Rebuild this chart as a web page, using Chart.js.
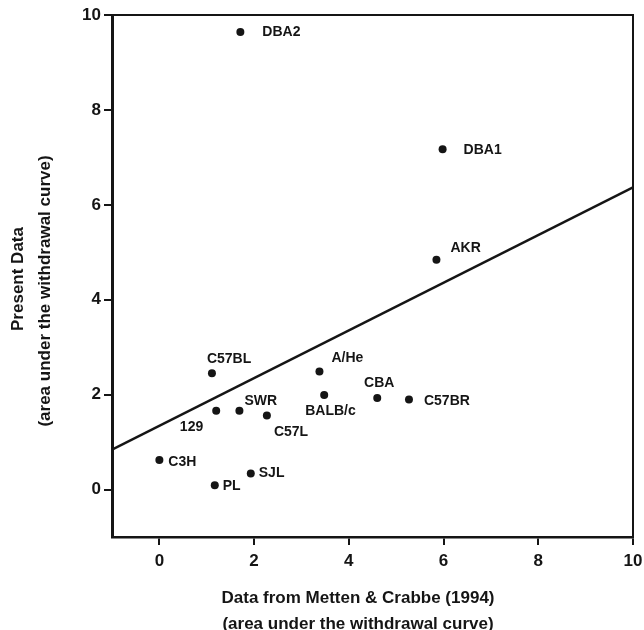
<!DOCTYPE html>
<html lang="en">
<head>
    <meta charset="UTF-8">
    <title>Present Data vs Metten & Crabbe (1994)</title>
    <script src="https://cdn.jsdelivr.net/npm/chart.js"></script>
</head>
<style>
    html, body { margin: 0; padding: 0; background: #fff; }
    .plot { position: relative; width: 644px; height: 630px; }
</style>
<body>
<div class="plot">
    <canvas id="strains" width="644" height="630"></canvas>
</div>
<script>
    // strains
    const strainNames = ['DBA2', 'DBA1', 'AKR', 'C57BL', 'A/He', 'BALB/c', 'CBA', 'C57BR', '129', 'SWR', 'C57L', 'C3H', 'SJL', 'PL'];
    const mettenCrabbe = [1.71, 5.98, 5.85, 1.11, 3.38, 3.48, 4.60, 5.27, 1.20, 1.69, 2.27, 0.00, 1.93, 1.17];
    const presentData = [9.64, 7.17, 4.84, 2.45, 2.49, 1.99, 1.93, 1.90, 1.66, 1.66, 1.56, 0.62, 0.34, 0.09];

    // regression line end points
    const fitX = [-1, 10];
    const fitY = [0.84, 6.37];

    const xTicks = [0, 2, 4, 6, 8, 10];
    const yTicks = [0, 2, 4, 6, 8, 10];

    const xTitle = ['Data from Metten & Crabbe (1994)', '(area under the withdrawal curve)'];
    const yTitle = ['Present Data', '(area under the withdrawal curve)'];

    // where each name sits next to its dot: [dx, dy, align]
    const labelPlace = {
        'DBA2': [22, 0, 'left'], 'DBA1': [21, 1, 'left'], 'AKR': [14, -12, 'left'],
        'C57BL': [-5, -14, 'left'], 'A/He': [12, -13, 'left'], 'BALB/c': [-19, 16, 'left'],
        'CBA': [2, -15, 'center'], 'C57BR': [15, 2, 'left'], '129': [-13, 16, 'right'],
        'SWR': [5, -10, 'left'], 'C57L': [7, 17, 'left'], 'C3H': [9, 2, 'left'],
        'SJL': [8, 0, 'left'], 'PL': [8, 1, 'left']
    };

    const ink = '#151515';
    const family = '"Liberation Sans", Arial, Helvetica, sans-serif';

    const strainLabels = {
        id: 'strainLabels',
        afterDatasetsDraw(chart) {
            const ctx = chart.ctx;
            const pts = chart.getDatasetMeta(0).data;
            ctx.save();
            ctx.font = 'bold 14px ' + family;
            ctx.fillStyle = ink;
            ctx.textBaseline = 'middle';
            pts.forEach((p, i) => {
                const pl = labelPlace[strainNames[i]];
                ctx.textAlign = pl[2];
                ctx.fillText(strainNames[i], p.x + pl[0], p.y + pl[1]);
            });
            ctx.restore();
        }
    };

    const frame = {
        id: 'frame',
        afterDraw(chart) {
            const a = chart.chartArea;
            const ctx = chart.ctx;
            ctx.save();
            ctx.strokeStyle = ink;
            ctx.lineWidth = 2;
            ctx.beginPath();
            ctx.moveTo(a.left, a.top);
            ctx.lineTo(a.right, a.top);
            ctx.lineTo(a.right, a.bottom);
            ctx.stroke();
            // axis titles
            ctx.fillStyle = ink;
            ctx.font = 'bold 17px ' + family;
            ctx.textAlign = 'center';
            ctx.textBaseline = 'middle';
            ctx.fillText(xTitle[0], 358, 598);
            ctx.fillText(xTitle[1], 358, 624);
            ctx.translate(18, 279);
            ctx.rotate(-Math.PI / 2);
            ctx.fillText(yTitle[0], 0, 0);
            ctx.fillText(yTitle[1], -12, 27);
            ctx.restore();
        }
    };

    new Chart(document.getElementById('strains'), {
        type: 'scatter',
        data: {
            datasets: [
                {
                    label: 'Strains',
                    data: mettenCrabbe.map((x, i) => ({ x: x, y: presentData[i] })),
                    pointRadius: 4,
                    pointBackgroundColor: ink,
                    pointBorderColor: ink,
                    pointBorderWidth: 0
                },
                {
                    type: 'line',
                    label: 'Fit',
                    data: fitX.map((x, i) => ({ x: x, y: fitY[i] })),
                    borderColor: ink,
                    borderWidth: 2.5,
                    pointRadius: 0,
                    fill: false
                }
            ]
        },
        options: {
            responsive: false,
            animation: false,
            layout: { padding: { left: 0, top: 15, right: 11, bottom: 0 } },
            plugins: {
                legend: { display: false },
                tooltip: { enabled: false }
            },
            scales: {
                x: {
                    type: 'linear',
                    min: -1,
                    max: 10,
                    afterBuildTicks: s => { s.ticks = xTicks.map(v => ({ value: v })); },
                    afterFit: s => { s.height = 93; s.paddingLeft = 0; s.paddingRight = 0; },
                    border: { display: true, color: ink, width: 2.5 },
                    grid: { drawOnChartArea: false, drawTicks: true, tickLength: 8, color: ink, lineWidth: 2 },
                    ticks: { color: ink, padding: 6, maxRotation: 0, font: { family: family, size: 17, weight: 'bold' } }
                },
                y: {
                    type: 'linear',
                    min: -1,
                    max: 10,
                    afterBuildTicks: s => { s.ticks = yTicks.map(v => ({ value: v })); },
                    afterFit: s => { s.width = 112; s.paddingTop = 0; s.paddingBottom = 0; },
                    border: { display: true, color: ink, width: 3 },
                    grid: { drawOnChartArea: false, drawTicks: true, tickLength: 8, color: ink, lineWidth: 2 },
                    ticks: { color: ink, padding: 3, font: { family: family, size: 17, weight: 'bold' } }
                }
            }
        },
        plugins: [strainLabels, frame]
    });
</script>
</body>
</html>
